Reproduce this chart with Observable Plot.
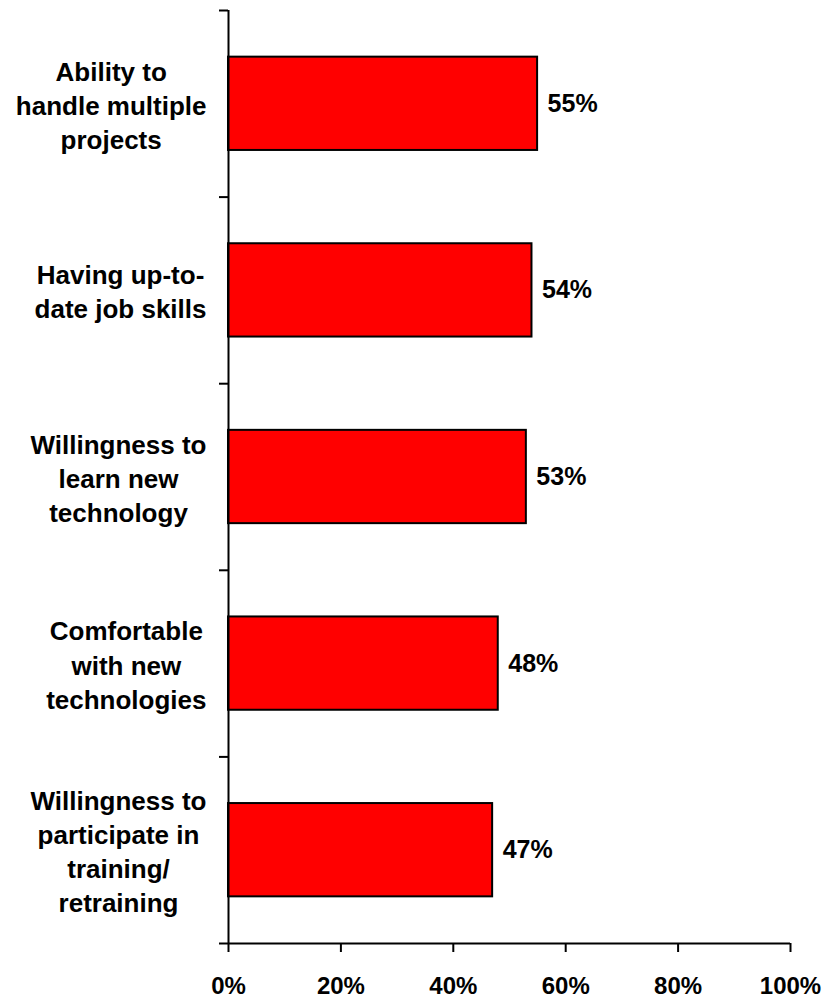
<!DOCTYPE html>
<html>
<head>
<meta charset="utf-8">
<script src="https://cdn.jsdelivr.net/npm/d3@7"></script>
<script src="https://cdn.jsdelivr.net/npm/@observablehq/plot@0.6"></script>
<style>
  html, body { margin: 0; padding: 0; background: #fff; }
  #chart svg { display: block; }
</style>
</head>
<body>
<div id="chart"></div>
<script>
const categories = [
  "Ability to\nhandle multiple\nprojects",
  "Having up-to-\ndate job skills",
  "Willingness to\nlearn new\ntechnology",
  "Comfortable\nwith new\ntechnologies",
  "Willingness to\nparticipate in\ntraining/\nretraining"
];
const values = [55, 54, 53, 48, 47];
const xTicks = [0, 20, 40, 60, 80, 100];

const FONT = "'Liberation Sans', Arial, Helvetica, sans-serif";
const rows = categories.map((c, i) => ({category: c, value: values[i], idx: i}));

// measure widest line of each category label so lines are centered within a right-aligned block
const ctx = document.createElement("canvas").getContext("2d");
ctx.font = `bold 26px ${FONT}`;
const blockWidth = c => Math.max(...c.split("\n").map(s => ctx.measureText(s).width));

const labelMarks = rows.map(r => Plot.text([r], {
  y: d => d.idx + 0.5,
  text: "category",
  frameAnchor: "left",
  textAnchor: "middle",
  lineAnchor: "middle",
  lineHeight: 1.31,
  dx: -22 - blockWidth(r.category) / 2,
  fontSize: 26,
  fontWeight: "bold",
  fill: "black"
}));

const chart = Plot.plot({
  width: 827,
  height: 998,
  marginLeft: 228,
  marginRight: 37,
  marginTop: 10,
  marginBottom: 55,
  style: {fontFamily: FONT, background: "white", color: "black"},
  x: {domain: [0, 100], ticks: xTicks, label: null},
  y: {domain: [0, categories.length], reverse: true, label: null},
  marks: [
    Plot.rectX(rows, {
      x1: 0,
      x2: "value",
      y1: d => d.idx + 0.25,
      y2: d => d.idx + 0.75,
      fill: "#ff0000",
      stroke: "black",
      strokeWidth: 2
    }),
    Plot.text(rows, {
      x: "value",
      y: d => d.idx + 0.5,
      text: d => d.value + "%",
      textAnchor: "start",
      lineAnchor: "middle",
      dx: 10,
      fontSize: 25,
      fontWeight: "bold",
      fill: "black"
    }),
    Plot.axisY({ticks: d3.range(categories.length + 1), tickFormat: () => "", tickSize: 9, strokeWidth: 2, label: null}),
    Plot.axisX({
      ticks: xTicks,
      tickFormat: d => d + "%",
      tickSize: 9,
      tickPadding: 24,
      strokeWidth: 2,
      fontSize: 24,
      fontWeight: "bold",
      fill: "black",
      label: null
    }),
    Plot.ruleX([0], {stroke: "black", strokeWidth: 2}),
    Plot.ruleY([categories.length], {stroke: "black", strokeWidth: 2}),
    ...labelMarks
  ]
});
document.getElementById("chart").appendChild(chart);
</script>
</body>
</html>
